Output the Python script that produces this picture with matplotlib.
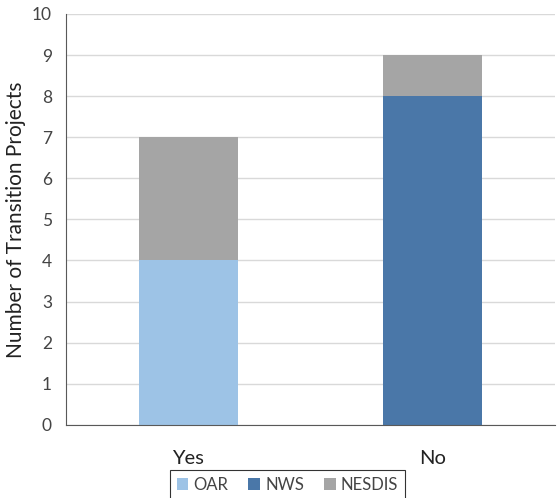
import matplotlib.pyplot as plt
import numpy as np

plt.rcParams['font.family'] = ['Lato', 'DejaVu Sans']

categories = ['Yes', 'No']
oar = [4, 0]
nws = [0, 8]
nesdis = [3, 1]

colors = {'OAR': '#9DC3E6', 'NWS': '#4A77A8', 'NESDIS': '#A5A5A5'}

fig = plt.figure(figsize=(5.58, 4.98), dpi=100)
ax = fig.add_axes([0.118, 0.147, 0.877, 0.825])

x = np.arange(len(categories))
w = 0.405
bottom = np.zeros(len(categories))
for name, vals in [('OAR', oar), ('NWS', nws), ('NESDIS', nesdis)]:
    ax.bar(x, vals, w, bottom=bottom, color=colors[name], label=name, zorder=2)
    bottom += np.array(vals)

ax.set_xlim(-0.5, 1.5)
ax.set_ylim(0, 10)
ax.set_yticks(range(0, 11))
ax.set_xticks(x)
ax.set_xticklabels(categories, fontsize=14.5, color='#222222')
ax.tick_params(axis='y', length=0, labelsize=12.5, colors='#444444', pad=10)
ax.tick_params(axis='x', length=0, pad=18)
ax.grid(axis='y', color='#D9D9D9', linewidth=1, zorder=0)
ax.set_ylabel('Number of Transition Projects', fontsize=15, color='#222222', labelpad=4)

for s in ['top', 'right']:
    ax.spines[s].set_visible(False)
ax.spines['left'].set_color('#595959')
ax.spines['bottom'].set_color('#595959')

leg = fig.legend(loc='upper center', bbox_to_anchor=(0.515, 0.072), ncol=3,
                 frameon=True, fancybox=False, fontsize=12, handlelength=0.7,
                 handleheight=0.7, handletextpad=0.3, columnspacing=1.2,
                 borderpad=0.4)
leg.get_frame().set_edgecolor('black')
leg.get_frame().set_linewidth(0.8)
for t in leg.get_texts():
    t.set_color('#444444')

fig.savefig('out.png', dpi=100)
